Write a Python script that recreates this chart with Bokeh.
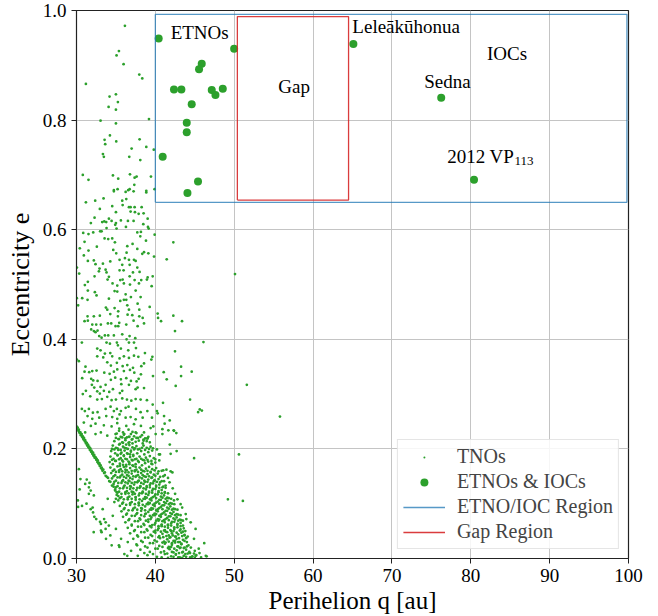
from bokeh.plotting import figure
from bokeh.models import Range1d, FixedTicker, Label, Legend, LegendItem, ColumnDataSource
from bokeh.embed import file_html
from bokeh.resources import INLINE

# ---------------- data ----------------
x_ticks = [30, 40, 50, 60, 70, 80, 90, 100]
x_tick_labels = ["30", "40", "50", "60", "70", "80", "90", "100"]
y_ticks = [0.0, 0.2, 0.4, 0.6, 0.8, 1.0]
y_tick_labels = ["0.0", "0.2", "0.4", "0.6", "0.8", "1.0"]

# ETNOs & IOCs (perihelion q [au], eccentricity e)
etno_q = [40.42, 49.99, 45.88, 45.54, 42.36, 43.30, 47.15, 47.62, 48.55, 44.61,
          43.98, 43.98, 40.93, 45.41, 44.07, 65.11, 76.25, 80.41]
etno_e = [0.949, 0.930, 0.903, 0.893, 0.856, 0.856, 0.855, 0.846, 0.857, 0.829,
          0.795, 0.778, 0.733, 0.688, 0.667, 0.939, 0.841, 0.691]

# Region boundaries
etno_region_q = [40.0, 99.8]
etno_region_e = [0.650, 0.993]
gap_region_q = [50.4, 64.5]
gap_region_e = [0.654, 0.989]

# TNOs, high eccentricity (sparse)
tno_high = [
    (36.14, 0.972), (35.38, 0.926), (35.08, 0.918), (35.97, 0.902), (37.96, 0.883), (38.34, 0.876),
    (31.19, 0.866), (35.0, 0.847), (34.19, 0.843), (35.25, 0.833), (34.07, 0.824), (35.0, 0.819),
    (33.05, 0.799), (39.19, 0.802), (35.0, 0.794), (34.24, 0.772), (33.56, 0.764), (35.04, 0.761),
    (38.0, 0.765), (33.64, 0.756), (36.99, 0.748), (38.85, 0.751), (39.8, 0.746), (33.35, 0.738),
    (33.47, 0.733), (36.69, 0.733), (38.09, 0.727), (30.8, 0.700), (31.52, 0.691), (34.62, 0.699),
    (35.29, 0.693), (36.78, 0.701), (37.37, 0.695), (37.62, 0.697), (39.44, 0.697), (37.33, 0.682),
    (35.21, 0.674), (34.74, 0.672), (36.56, 0.672), (36.74, 0.674), (38.85, 0.671), (39.9, 0.674),
]

# TNOs, e ~ 0.44 - 0.67
tno_mid = [
    (34.74, 0.670), (36.23, 0.669), (37.24, 0.670), (38.85, 0.668), (31.19, 0.650), (32.37, 0.653),
    (33.43, 0.657), (35.8, 0.653), (35.85, 0.645), (36.31, 0.656), (34.53, 0.643), (36.65, 0.641),
    (36.86, 0.641), (37.37, 0.641), (38.26, 0.641), (32.96, 0.638), (35.0, 0.632), (36.86, 0.633),
    (37.41, 0.632), (37.88, 0.629), (38.51, 0.630), (32.29, 0.622), (34.11, 0.620), (33.52, 0.615),
    (33.26, 0.614), (33.77, 0.614), (34.45, 0.616), (31.82, 0.612), (35.0, 0.612), (34.91, 0.609),
    (35.63, 0.617), (36.52, 0.616), (37.24, 0.616), (39.02, 0.620), (38.47, 0.610), (33.81, 0.603),
    (35.08, 0.602), (36.27, 0.605), (33.0, 0.597), (33.18, 0.597), (39.06, 0.605), (39.15, 0.602),
    (30.85, 0.594), (31.52, 0.592), (32.12, 0.595), (37.71, 0.595), (38.17, 0.596), (38.09, 0.588),
    (39.91, 0.591), (33.56, 0.584), (34.02, 0.583), (34.53, 0.584), (38.81, 0.580), (31.02, 0.578),
    (34.87, 0.577), (42.28, 0.577), (37.11, 0.574), (36.44, 0.570), (32.58, 0.569), (30.42, 0.566),
    (37.71, 0.565), (34.66, 0.563), (31.52, 0.562), (38.56, 0.559), (39.11, 0.557), (38.34, 0.556),
    (35.04, 0.557), (36.35, 0.558), (30.93, 0.553), (39.83, 0.551), (41.44, 0.546), (35.46, 0.545),
    (36.14, 0.548), (36.65, 0.545), (37.29, 0.545), (37.5, 0.543), (31.44, 0.543), (32.2, 0.544),
    (34.28, 0.542), (33.35, 0.538), (32.41, 0.537), (35.8, 0.536), (36.74, 0.536), (32.92, 0.529),
    (32.84, 0.524), (33.69, 0.527), (33.81, 0.522), (35.46, 0.526), (35.97, 0.526), (37.71, 0.531),
    (37.16, 0.522), (38.0, 0.523), (30.05, 0.531), (30.34, 0.520), (32.29, 0.515), (34.11, 0.514),
    (33.94, 0.509), (35.55, 0.508), (35.85, 0.509), (36.74, 0.515), (37.37, 0.508), (38.21, 0.508),
    (39.02, 0.513), (39.66, 0.515), (38.93, 0.509), (31.44, 0.505), (31.06, 0.499), (34.57, 0.502),
    (35.17, 0.498), (36.01, 0.502), (36.78, 0.500), (37.92, 0.502), (37.5, 0.489), (39.53, 0.497),
    (31.44, 0.489), (32.33, 0.486), (32.54, 0.480), (34.83, 0.488), (35.17, 0.487), (36.23, 0.482),
    (36.9, 0.477), (36.31, 0.472), (38.13, 0.477), (30.04, 0.475), (30.72, 0.475), (31.4, 0.472),
    (34.11, 0.474), (35.55, 0.470), (36.01, 0.472), (30.21, 0.462), (33.73, 0.458), (33.9, 0.454),
    (34.83, 0.457), (35.29, 0.451), (36.44, 0.462), (36.65, 0.454), (37.75, 0.465), (37.96, 0.454),
    (39.28, 0.459), (36.48, 0.445), (37.07, 0.444), (37.96, 0.442), (35.25, 0.442), (34.28, 0.446),
    (31.4, 0.442), (32.2, 0.442), (32.96, 0.443), (38.39, 0.439), (40.29, 0.447), (40.34, 0.439),
    (42.28, 0.443),
]

# TNOs, e ~ 0.22 - 0.44
tno_low = [
    (31.02, 0.433), (31.44, 0.434), (32.0, 0.427), (32.5, 0.427), (31.86, 0.418), (32.2, 0.415),
    (32.41, 0.413), (32.67, 0.416), (33.09, 0.427), (33.98, 0.429), (34.4, 0.429), (34.95, 0.424),
    (35.42, 0.430), (35.29, 0.424), (36.31, 0.427), (37.24, 0.434), (37.75, 0.424), (38.56, 0.429),
    (40.72, 0.433), (43.38, 0.433), (42.49, 0.415), (32.88, 0.406), (33.18, 0.403), (33.6, 0.407),
    (34.02, 0.407), (34.74, 0.407), (35.8, 0.409), (36.73, 0.406), (37.45, 0.402), (36.35, 0.400),
    (30.68, 0.394), (46.1, 0.395), (33.81, 0.394), (34.24, 0.392), (35.12, 0.394), (35.25, 0.389),
    (36.65, 0.394), (37.29, 0.394), (32.63, 0.383), (33.05, 0.380), (34.28, 0.375), (33.6, 0.374),
    (35.63, 0.383), (36.56, 0.380), (37.54, 0.384), (38.68, 0.375), (42.49, 0.378), (32.63, 0.369),
    (33.39, 0.367), (34.53, 0.369), (35.46, 0.365), (36.01, 0.369), (36.65, 0.366), (37.29, 0.370),
    (37.84, 0.368), (39.62, 0.368), (39.49, 0.363), (30.04, 0.363), (30.3, 0.360), (31.14, 0.350),
    (33.9, 0.358), (34.36, 0.352), (35.12, 0.357), (35.85, 0.351), (36.44, 0.353), (37.16, 0.348),
    (38.22, 0.351), (38.56, 0.356), (43.26, 0.350), (44.61, 0.341), (41.06, 0.340), (41.44, 0.327),
    (31.02, 0.341), (31.61, 0.340), (32.0, 0.342), (32.54, 0.343), (33.52, 0.339), (34.2, 0.337),
    (34.74, 0.341), (35.17, 0.345), (36.01, 0.342), (36.78, 0.344), (37.33, 0.339), (38.17, 0.336),
    (39.7, 0.333), (43.26, 0.333), (30.72, 0.329), (31.86, 0.328), (32.12, 0.325), (32.67, 0.324),
    (34.36, 0.326), (34.91, 0.330), (35.63, 0.327), (36.31, 0.329), (36.9, 0.324), (37.62, 0.323),
    (37.88, 0.328), (31.95, 0.317), (32.25, 0.312), (33.05, 0.313), (33.69, 0.317), (35.68, 0.318),
    (36.65, 0.317), (37.75, 0.312), (38.56, 0.311), (42.58, 0.315), (31.19, 0.306), (32.63, 0.305),
    (32.96, 0.301), (33.47, 0.306), (34.15, 0.304), (34.62, 0.309), (35.8, 0.306), (35.5, 0.302),
    (37.5, 0.309), (30.8, 0.300), (31.74, 0.296), (32.63, 0.290), (33.22, 0.291), (33.9, 0.295),
    (34.45, 0.289), (35.0, 0.290), (35.8, 0.292), (36.4, 0.290), (36.95, 0.288), (37.5, 0.291),
    (38.13, 0.290), (38.93, 0.289), (44.4, 0.290), (40.97, 0.284), (39.66, 0.281), (40.2, 0.269),
    (40.29, 0.265), (30.68, 0.273), (31.06, 0.269), (31.57, 0.273), (32.08, 0.266), (32.67, 0.267),
    (33.69, 0.273), (34.32, 0.277), (34.74, 0.269), (35.12, 0.273), (35.63, 0.269), (36.23, 0.275),
    (36.6, 0.277), (37.54, 0.273), (38.13, 0.267), (38.98, 0.269), (45.42, 0.267), (45.63, 0.272),
    (31.4, 0.260), (32.0, 0.255), (32.88, 0.257), (33.77, 0.260), (34.53, 0.258), (35.17, 0.255),
    (35.46, 0.263), (36.23, 0.257), (36.86, 0.258), (37.5, 0.254), (38.39, 0.257), (39.57, 0.257),
    (41.1, 0.260), (41.18, 0.246), (41.82, 0.252), (30.93, 0.248), (31.82, 0.242), (32.41, 0.246),
    (33.47, 0.243), (34.45, 0.241), (35.17, 0.247), (35.42, 0.237), (36.31, 0.242), (37.29, 0.245),
    (38.17, 0.242), (39.4, 0.238), (39.74, 0.241), (40.89, 0.236), (41.65, 0.234), (42.32, 0.234),
    (42.66, 0.229), (31.1, 0.230), (32.41, 0.227), (33.09, 0.230), (33.9, 0.224), (34.95, 0.227),
    (36.06, 0.227), (36.65, 0.222), (37.5, 0.230), (38.56, 0.230), (39.11, 0.222),
    (50.1, 0.519), (51.6, 0.317), (45.9, 0.270), (55.8, 0.259),
]

# TNOs, resonant stripe
tno_stripe = [
    (30.0, 0.241), (30.05, 0.238), (30.1, 0.236), (30.15, 0.239), (30.25, 0.233), (30.3, 0.235),
    (30.35, 0.231), (30.4, 0.229), (30.5, 0.230), (30.55, 0.225), (30.6, 0.226), (30.65, 0.227),
    (30.7, 0.222), (30.8, 0.223), (30.85, 0.219), (30.9, 0.217), (30.95, 0.220), (31.05, 0.214),
    (31.1, 0.216), (31.15, 0.213), (31.2, 0.210), (31.3, 0.211), (31.35, 0.206), (31.4, 0.207),
    (31.45, 0.208), (31.5, 0.203), (31.6, 0.204), (31.65, 0.201), (31.7, 0.198), (31.75, 0.201),
    (31.85, 0.195), (31.9, 0.197), (31.95, 0.194), (32.0, 0.191), (32.1, 0.193), (32.15, 0.188),
    (32.2, 0.187), (32.25, 0.189), (32.3, 0.184), (32.4, 0.185), (32.45, 0.183), (32.5, 0.180),
    (32.55, 0.182), (32.65, 0.176), (32.7, 0.179), (32.75, 0.175), (32.8, 0.173), (32.9, 0.174),
    (32.95, 0.169), (33.0, 0.170), (33.05, 0.170), (33.1, 0.165), (33.2, 0.166), (33.25, 0.163),
    (33.3, 0.160), (33.4, 0.162), (33.5, 0.156), (33.6, 0.157), (33.7, 0.151), (33.85, 0.149),
    (34.0, 0.147), (34.15, 0.141), (34.3, 0.140), (34.5, 0.133), (34.7, 0.131), (34.9, 0.124),
    (35.1, 0.121), (35.3, 0.114),
]

# TNOs, dense classical / resonant cluster
tno_core = [
    (35.1, .228), (35.6, .222), (36.0, .226), (36.4, .221), (36.9, .227), (37.3, .223), (37.8, .220), (38.3, .225), (38.7, .219),
    (34.8, .214), (35.3, .218), (35.8, .212), (36.2, .216), (36.6, .211), (37.0, .217), (37.5, .213), (37.9, .215), (38.4, .210),
    (38.9, .214), (39.3, .212),
    (34.6, .206), (35.0, .202), (35.4, .208), (35.9, .204), (36.3, .201), (36.7, .207), (37.1, .203), (37.6, .205), (38.0, .200),
    (38.5, .206), (38.9, .202), (39.4, .204),
    (34.4, .196), (34.9, .192), (35.3, .198), (35.7, .193), (36.1, .197), (36.5, .191), (36.9, .195), (37.3, .199), (37.7, .192),
    (38.2, .196), (38.6, .190), (39.1, .194), (39.6, .197),
    (34.3, .186), (34.7, .182), (35.2, .188), (35.6, .183), (36.0, .187), (36.4, .181), (36.8, .185), (37.2, .189), (37.6, .182),
    (38.0, .186), (38.4, .180), (38.8, .184), (39.3, .187), (39.8, .183),
    (34.2, .176), (34.6, .172), (35.0, .178), (35.5, .173), (35.9, .177), (36.3, .171), (36.7, .175), (37.1, .179), (37.5, .172),
    (37.9, .176), (38.3, .170), (38.7, .174), (39.1, .177), (39.5, .173), (40.0, .175),
    (34.3, .166), (34.8, .162), (35.2, .168), (35.6, .163), (36.0, .167), (36.4, .161), (36.8, .165), (37.2, .169), (37.6, .162),
    (38.0, .166), (38.4, .160), (38.8, .164), (39.2, .167), (39.6, .163), (40.1, .165),
    (34.4, .156), (34.9, .152), (35.4, .158), (35.8, .153), (36.2, .157), (36.6, .151), (37.0, .155), (37.4, .159), (37.8, .152),
    (38.2, .156), (38.6, .150), (39.0, .154), (39.4, .157), (39.8, .153), (40.3, .155),
    (34.5, .146), (35.0, .142), (35.5, .148), (35.9, .143), (36.3, .147), (36.7, .141), (37.1, .145), (37.5, .149), (37.9, .142),
    (38.3, .146), (38.7, .140), (39.1, .144), (39.5, .147), (39.9, .143), (40.4, .145), (40.8, .141),
    (34.7, .136), (35.2, .132), (35.7, .138), (36.1, .133), (36.5, .137), (36.9, .131), (37.3, .135), (37.7, .139), (38.1, .132),
    (38.5, .136), (38.9, .130), (39.3, .134), (39.7, .137), (40.1, .133), (40.5, .135), (41.0, .131),
    (34.9, .126), (35.4, .122), (35.9, .128), (36.4, .123), (36.8, .127), (37.2, .121), (37.6, .125), (38.0, .129), (38.4, .122),
    (38.8, .126), (39.2, .120), (39.6, .124), (40.0, .127), (40.4, .123), (40.8, .125), (41.2, .121),
    (35.1, .116), (35.7, .112), (36.2, .118), (36.7, .113), (37.1, .117), (37.5, .111), (37.9, .115), (38.3, .119), (38.7, .112),
    (39.1, .116), (39.5, .110), (39.9, .114), (40.3, .117), (40.7, .113), (41.1, .115), (41.5, .111),
    (35.3, .106), (35.9, .102), (36.5, .108), (37.0, .103), (37.5, .107), (37.9, .101), (38.3, .105), (38.7, .109), (39.1, .102),
    (39.5, .106), (39.9, .100), (40.3, .104), (40.7, .107), (41.1, .103), (41.5, .105), (41.9, .101),
    (35.5, .096), (36.1, .092), (36.8, .098), (37.4, .093), (37.9, .097), (38.3, .091), (38.7, .095), (39.1, .099), (39.5, .092),
    (39.9, .096), (40.3, .090), (40.7, .094), (41.1, .097), (41.5, .093), (41.9, .095), (42.3, .091),
    (35.7, .086), (36.4, .082), (37.1, .088), (37.7, .083), (38.2, .087), (38.7, .081), (39.1, .085), (39.5, .089), (39.9, .082),
    (40.3, .086), (40.7, .080), (41.1, .084), (41.5, .087), (41.9, .083), (42.3, .085), (42.7, .081),
    (35.9, .076), (36.7, .072), (37.4, .078), (38.0, .073), (38.6, .077), (39.1, .071), (39.5, .075), (39.9, .079), (40.3, .072),
    (40.7, .076), (41.1, .070), (41.5, .074), (41.9, .077), (42.3, .073), (42.7, .075), (43.1, .071),
    (36.2, .066), (37.0, .062), (37.8, .068), (38.5, .063), (39.1, .067), (39.6, .061), (40.0, .065), (40.4, .069), (40.8, .062),
    (41.2, .066), (41.6, .060), (42.0, .064), (42.4, .067), (42.8, .063), (43.2, .065),
    (36.5, .056), (37.4, .052), (38.2, .058), (38.9, .053), (39.5, .057), (40.0, .051), (40.4, .055), (40.8, .059), (41.2, .052),
    (41.6, .056), (42.0, .050), (42.4, .054), (42.8, .057), (43.2, .053), (43.6, .055),
    (36.8, .046), (37.7, .042), (38.6, .048), (39.4, .043), (40.0, .047), (40.5, .041), (40.9, .045), (41.3, .049), (41.7, .042),
    (42.1, .046), (42.5, .040), (42.9, .044), (43.3, .047), (43.7, .043),
    (37.2, .036), (38.2, .032), (39.1, .038), (39.9, .033), (40.6, .037), (41.1, .031), (41.5, .035), (41.9, .039), (42.3, .032),
    (42.7, .036), (43.1, .030), (43.5, .034), (43.9, .037),
    (37.6, .026), (38.7, .022), (39.7, .028), (40.5, .023), (41.2, .027), (41.7, .021), (42.1, .025), (42.5, .029), (42.9, .022),
    (43.3, .026), (43.7, .020), (44.2, .024),
    (38.1, .016), (39.3, .012), (40.3, .018), (41.1, .013), (41.8, .017), (42.3, .011), (42.7, .015), (43.1, .019), (43.5, .012),
    (43.9, .016), (44.4, .010), (45.0, .014),
    (39.0, .006), (40.2, .003), (41.2, .008), (42.0, .004), (42.6, .007), (43.1, .002), (43.6, .005), (44.1, .009), (44.6, .003),
    (45.2, .006), (45.8, .002), (46.5, .004),
    (37.4, .139), (37.8, .141), (38.2, .138), (38.6, .142), (39.0, .140), (39.4, .137), (39.8, .141),
    (37.7, .129), (38.1, .131), (38.5, .128), (38.9, .132), (39.3, .130), (39.7, .127), (40.1, .131), (40.5, .129),
    (38.0, .119), (38.4, .121), (38.8, .118), (39.2, .122), (39.6, .120), (40.0, .117), (40.4, .121), (40.8, .119),
    (38.5, .109), (38.9, .111), (39.3, .108), (39.7, .112), (40.1, .110), (40.5, .107), (40.9, .111), (41.3, .109),
    (38.9, .099), (39.3, .101), (39.7, .098), (40.1, .102), (40.5, .100), (40.9, .097), (41.3, .101), (41.7, .099),
    (39.3, .089), (39.7, .091), (40.1, .088), (40.5, .092), (40.9, .090), (41.3, .087), (41.7, .091), (42.1, .089),
    (39.7, .079), (40.1, .081), (40.5, .078), (40.9, .082), (41.3, .080), (41.7, .077), (42.1, .081), (42.5, .079),
    (40.1, .069), (40.5, .071), (40.9, .068), (41.3, .072), (41.7, .070), (42.1, .067), (42.5, .071), (42.9, .069),
    (40.4, .059), (40.8, .061), (41.2, .058), (41.6, .062), (42.0, .060), (42.4, .057), (42.8, .061), (43.2, .059),
    (40.7, .049), (41.1, .051), (41.5, .048), (41.9, .052), (42.3, .050), (42.7, .047), (43.1, .051), (43.5, .049),
    (41.0, .039), (41.4, .041), (41.8, .038), (42.2, .042), (42.6, .040), (43.0, .037), (43.4, .041),
    (41.3, .029), (41.7, .031), (42.1, .028), (42.5, .032), (42.9, .030), (43.3, .027),
    (41.6, .019), (42.0, .021), (42.4, .018), (42.8, .022), (43.2, .020),
    (35.5, .209), (35.9, .211), (36.3, .208), (36.7, .212), (37.1, .210),
    (35.2, .189), (35.6, .191), (36.0, .188), (36.4, .192), (36.8, .190), (37.2, .187),
    (35.5, .169), (35.9, .171), (36.3, .168), (36.7, .172), (37.1, .170), (37.5, .167),
]

# TNOs, further cluster members between the rows above
tno_core_fill = [
    (35.4, .233), (35.9, .230), (36.6, .235), (37.1, .231), (37.6, .229),
    (35.0, .220), (35.4, .218), (35.8, .221), (36.2, .219), (36.7, .222), (37.1, .218), (37.6, .220), (38.1, .222),
    (38.5, .217), (39.0, .219),
    (34.5, .200), (34.8, .199), (35.2, .201), (35.6, .198), (36.1, .202), (36.5, .200), (36.9, .197), (37.4, .201),
    (37.8, .199), (38.3, .202), (38.7, .198), (39.2, .200), (39.7, .201), (40.2, .199),
    (34.5, .180), (34.9, .178), (35.4, .181), (35.8, .179), (36.2, .182), (36.6, .177), (37.0, .180), (37.4, .181),
    (37.8, .178), (38.2, .182), (38.6, .179), (39.0, .180), (39.5, .178), (40.0, .181), (40.5, .179),
    (34.6, .160), (35.0, .158), (35.4, .161), (35.8, .159), (36.2, .162), (36.6, .157), (37.0, .160), (37.4, .161),
    (37.8, .158), (38.2, .162), (38.6, .159), (39.0, .160), (39.4, .158), (39.9, .161), (40.4, .159), (40.8, .160),
    (34.7, .150), (35.2, .148), (35.6, .151), (36.0, .149), (36.4, .152), (36.8, .147), (37.2, .150), (37.6, .151),
    (38.0, .148), (38.4, .152), (38.8, .149), (39.2, .150), (39.6, .148), (40.0, .151), (40.6, .149), (41.0, .150),
    (34.8, .140), (35.3, .138), (35.8, .141), (36.2, .139), (36.6, .142), (37.0, .138), (40.2, .140), (40.6, .139), (41.1, .141),
    (35.0, .130), (35.5, .128), (36.0, .131), (36.4, .129), (36.8, .132), (37.2, .128), (40.9, .130), (41.3, .129),
    (35.2, .120), (35.7, .118), (36.2, .121), (36.6, .119), (37.0, .122), (37.4, .118), (41.2, .120), (41.6, .119),
    (35.5, .110), (36.0, .108), (36.5, .111), (37.0, .109), (37.5, .112), (38.0, .108), (41.7, .110), (42.0, .109),
    (35.8, .100), (36.3, .098), (36.8, .101), (37.4, .099), (37.9, .102), (38.4, .098), (42.1, .100), (42.4, .099),
    (36.0, .090), (36.6, .088), (37.2, .091), (37.7, .089), (38.2, .092), (38.7, .088), (42.5, .090), (42.8, .089),
    (36.3, .080), (37.0, .078), (37.6, .081), (38.2, .079), (38.8, .082), (39.3, .078), (42.9, .080), (43.2, .079),
    (36.6, .070), (37.4, .068), (38.1, .071), (38.8, .069), (39.4, .072), (43.3, .070), (43.5, .069),
    (37.0, .060), (37.8, .058), (38.6, .061), (39.3, .059), (39.9, .062), (43.5, .060),
    (37.3, .050), (38.2, .048), (39.0, .051), (39.8, .049), (40.3, .052), (43.8, .050),
    (37.8, .040), (38.7, .038), (39.6, .041), (40.4, .039), (43.7, .042), (44.1, .040),
    (38.4, .030), (39.3, .028), (40.2, .031), (40.9, .029), (43.7, .032), (44.0, .030),
    (39.0, .020), (40.0, .018), (40.9, .021), (43.6, .019), (44.0, .022), (44.5, .020),
    (38.6, .010), (39.7, .008), (40.7, .011), (41.5, .009), (42.1, .012), (42.6, .008), (43.0, .010), (43.4, .011),
    (43.8, .008), (44.3, .012), (44.9, .009), (45.6, .010),
    (40.8, .002), (41.6, .001), (42.3, .003), (42.9, .002), (43.4, .001), (43.9, .003), (44.4, .002), (45.0, .001),
    (41.2, .152), (41.6, .147), (41.4, .162), (41.8, .139), (42.2, .128), (42.5, .118), (42.8, .108),
]

# TNOs, sparse points around the cluster
tno_edge = [
    (50.6, 0.190), (49.2, 0.108), (51.1, 0.105), (46.2, 0.028),
    (30.3, 0.163), (30.5, 0.145), (31.1, 0.136), (31.57, 0.130), (31.8, 0.124), (32.2, 0.115),
    (31.8, 0.090), (32.1, 0.084), (32.5, 0.072), (33.1, 0.051), (33.5, 0.072), (33.7, 0.066),
    (34.1, 0.060), (30.2, 0.094), (35.0, 0.109), (32.05, 0.093), (32.98, 0.067), (32.18, 0.048),
    (33.1, 0.063), (33.74, 0.036), (34.46, 0.024), (34.29, 0.042), (35.0, 0.054), (35.65, 0.036),
    (35.44, 0.021), (36.5, 0.030), (36.07, 0.008), (36.92, 0.014), (37.68, 0.024), (37.77, 0.005),
    (33.96, 0.109), (34.6, 0.078), (33.32, 0.090), (34.8, 0.103), (32.26, 0.076),
    (41.83, 0.208), (42.7, 0.196), (40.59, 0.190), (41.94, 0.191), (44.91, 0.183), (41.0, 0.161),
    (41.94, 0.159), (41.3, 0.133), (42.36, 0.106), (43.4, 0.093), (43.2, 0.099), (43.85, 0.081),
    (43.93, 0.072), (44.48, 0.066), (45.1, 0.054), (44.9, 0.036), (45.5, 0.018), (46.4, 0.005),
    (45.1, 0.005), (44.7, 0.004), (38.5, 0.215), (39.6, 0.172), (38.98, 0.219), (40.04, 0.227),
    (40.89, 0.227), (42.37, 0.233), (40.46, 0.190), (42.16, 0.157), (30.7, 0.096), (31.27, 0.100),
    (31.57, 0.118), (33.18, 0.048), (33.69, 0.054), (35.38, 0.024), (36.44, 0.005), (30.4, 0.126),
    (30.17, 0.106), (31.3, 0.144), (31.65, 0.138),
]

# ---------------- figure ----------------
FONT = "Liberation Serif"
GREEN = "#2ca02c"

all_tno = tno_high + tno_mid + tno_low + tno_stripe + tno_core + tno_core_fill + tno_edge
tno_src = ColumnDataSource(data=dict(q=[t[0] for t in all_tno], e=[t[1] for t in all_tno]))
etno_src = ColumnDataSource(data=dict(q=etno_q, e=etno_e))

p = figure(width=658, height=616, output_backend="svg", toolbar_location=None,
           x_range=Range1d(30, 100), y_range=Range1d(0, 1),
           min_border_left=76, min_border_right=30, min_border_top=10, min_border_bottom=57)
p.background_fill_color = "white"
p.border_fill_color = "white"
p.outline_line_color = "#222222"
p.outline_line_width = 1.2

for ax in (p.xaxis[0], p.yaxis[0]):
    ax.minor_tick_line_color = None
    ax.major_tick_out = 5
    ax.major_tick_in = 0
    ax.major_tick_line_color = "#222222"
    ax.axis_line_color = "#222222"
    ax.major_label_text_font = FONT
    ax.major_label_text_font_size = "19px"
    ax.major_label_text_color = "black"
    ax.axis_label_text_font = FONT
    ax.axis_label_text_font_style = "normal"
    ax.axis_label_text_color = "black"

p.xaxis.axis_label_text_font_size = "25px"
p.yaxis.axis_label_text_font_size = "26px"
p.xaxis.ticker = FixedTicker(ticks=x_ticks)
p.xaxis.major_label_overrides = dict(zip(x_ticks, x_tick_labels))
p.yaxis.ticker = FixedTicker(ticks=y_ticks)
p.yaxis.major_label_overrides = dict(zip(y_ticks, y_tick_labels))
p.xaxis.major_label_standoff = 5
p.yaxis.major_label_standoff = 5
p.xaxis.axis_label_standoff = 2
p.yaxis.axis_label_standoff = 5
p.xaxis.axis_label = "Perihelion q [au]"
p.yaxis.axis_label = "Eccentricity e"

p.xgrid.ticker = FixedTicker(ticks=x_ticks)
p.ygrid.ticker = FixedTicker(ticks=y_ticks)
for g in (p.xgrid[0], p.ygrid[0]):
    g.grid_line_color = "#c4c4c4"
    g.grid_line_width = 1

# "dot" marker: small filled dot (diameter = size / 4), stays small in the legend too
r_tno = p.scatter("q", "e", source=tno_src, marker="dot", size=11, line_color=GREEN)
r_etno = p.scatter("q", "e", source=etno_src, size=8, fill_color=GREEN, line_color=None)

q0, q1 = etno_region_q
e0, e1 = etno_region_e
r_blue = p.line([q0, q1, q1, q0, q0], [e0, e0, e1, e1, e0], line_color="#1f77b4",
                line_alpha=0.75, line_width=1.3)
g0, g1 = gap_region_q
f0, f1 = gap_region_e
r_red = p.line([g0, g1, g1, g0, g0], [f0, f0, f1, f1, f0], line_color="#d62728",
               line_alpha=0.9, line_width=1.3)

def lab(x, y, text, size="19px", align="left"):
    p.add_layout(Label(x=x, y=y, text=text, text_font=FONT, text_font_size=size,
                       text_baseline="alphabetic", text_align=align, text_color="black"))

lab(41.94, 0.960, "ETNOs")
lab(57.6, 0.862, "Gap", align="center")
lab(64.98, 0.971, "Leleākūhonua")
lab(82.06, 0.921, "IOCs")
lab(74.09, 0.871, "Sedna")
lab(77.01, 0.734, "2012 VP")
lab(85.55, 0.726, "113", size="13px")

legend = Legend(items=[
    LegendItem(label="TNOs", renderers=[r_tno]),
    LegendItem(label="ETNOs & IOCs", renderers=[r_etno]),
    LegendItem(label="ETNO/IOC Region", renderers=[r_blue]),
    LegendItem(label="Gap Region", renderers=[r_red]),
], location="bottom_right")
legend.label_text_font = FONT
legend.label_text_font_size = "20px"
legend.glyph_width = 42
legend.glyph_height = 20
legend.label_height = 20
legend.label_standoff = 12
legend.spacing = 2
legend.padding = 5
legend.margin = 9
legend.border_line_color = "#cccccc"
legend.border_line_width = 1
legend.background_fill_alpha = 0.85
p.add_layout(legend)

open("out.html", "w").write(file_html(p, INLINE))
